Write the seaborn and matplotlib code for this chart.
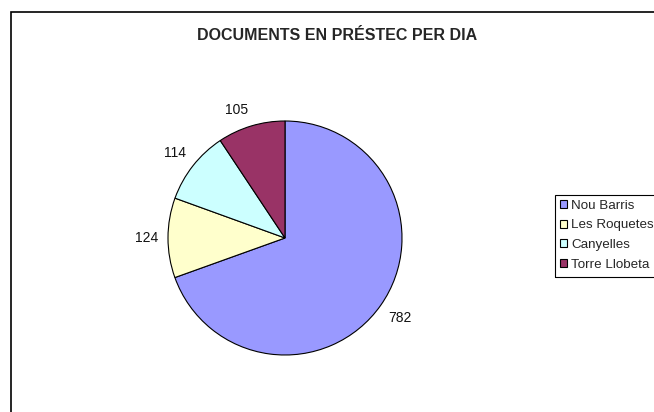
import matplotlib
matplotlib.use("Agg")
import numpy as np
import matplotlib.pyplot as plt
import seaborn as sns
from matplotlib.patches import Rectangle

# Dades: documents en préstec per dia
biblioteques = ["Nou Barris", "Les Roquetes", "Canyelles", "Torre Llobeta"]
documents = [782, 124, 114, 105]
colors = ["#9999FF", "#FFFFCC", "#CCFFFF", "#993366"]

sns.set_theme(style="white")
plt.rcParams['font.family'] = ['Liberation Sans', 'DejaVu Sans']

W, H = 654, 412
fig = plt.figure(figsize=(W / 100, H / 100), dpi=100)
fig.patch.set_facecolor("white")

# marc del gràfic (tallat a la dreta i a baix)
fig.add_artist(Rectangle((10.5 / W, -0.1), 1.2, 1.1 - 12.5 / H,
                         transform=fig.transFigure, fill=False,
                         edgecolor="black", linewidth=1.2))

cx, cy, r = 285, 238, 117
ax = fig.add_axes([(cx - r) / W, (H - cy - r) / H, 2 * r / W, 2 * r / H])

total = sum(documents)
wedges, _, autotexts = ax.pie(
    documents, labels=biblioteques, colors=colors, startangle=90,
    counterclock=False, labeldistance=None,
    autopct=lambda p: f"{round(p * total / 100)}", pctdistance=1.1,
    wedgeprops=dict(edgecolor="black", linewidth=0.8),
    textprops=dict(fontsize=10, color="#111111"))
ax.set_xlim(-1, 1)
ax.set_ylim(-1, 1)
ax.set_aspect("equal")

# etiquetes a l'estil Excel: ancorades a la vora exterior
for w, t in zip(wedges, autotexts):
    ang = np.deg2rad((w.theta1 + w.theta2) / 2)
    x, y = 1.08 * np.cos(ang), 1.08 * np.sin(ang)
    t.set_position((x, y))
    t.set_ha("left" if x > 0 else "right")
    t.set_va("bottom" if y > 0.1 else ("top" if y < -0.1 else "center"))

fig.text(337 / W, 1 - 35.5 / H, "DOCUMENTS EN PRÉSTEC PER DIA",
         ha="center", va="center", fontsize=11.5, fontweight="bold")

leg = fig.legend(wedges, biblioteques, loc="upper left",
                 bbox_to_anchor=(555 / W, 1 - 195 / H), fontsize=9.6,
                 frameon=False,
                 handlelength=0.55, handleheight=0.55, handletextpad=0.3,
                 labelspacing=0.58, borderpad=0.35, borderaxespad=0)
fig.add_artist(Rectangle((555 / W, 1 - 277 / H), 0.3, 82 / H,
                         transform=fig.transFigure, fill=False,
                         edgecolor="black", linewidth=0.8))

fig.savefig("out.png", dpi=100)
